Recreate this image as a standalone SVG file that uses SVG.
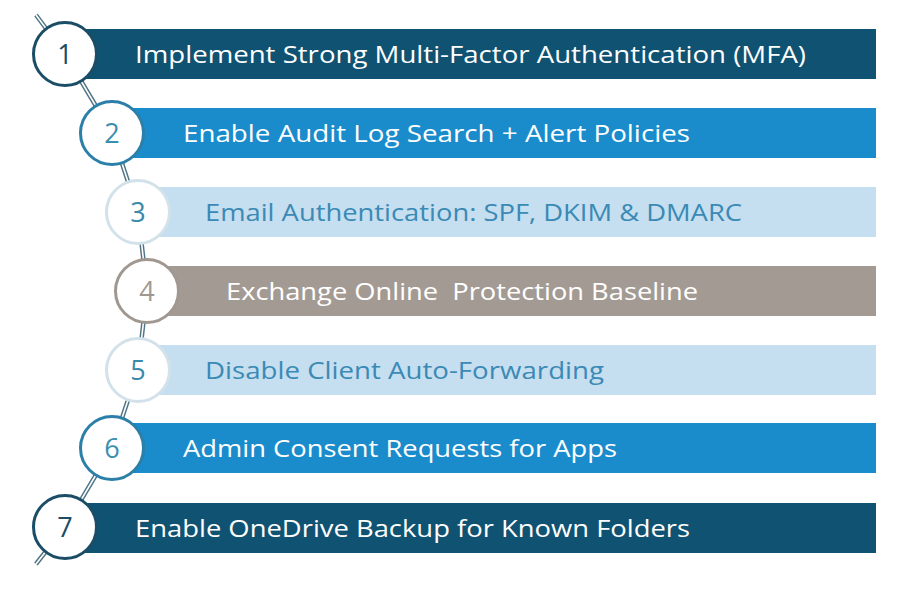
<svg xmlns="http://www.w3.org/2000/svg" width="912" height="589" viewBox="0 0 912 589">
  <style>
    .lbl { font-family: "Open Sans", "Liberation Sans", sans-serif; font-size: 24px; }
    .num { font-family: "Open Sans", "Liberation Sans", sans-serif; font-size: 27px; text-anchor: middle; }
    .w { fill: #ffffff; }
    .lb { fill: #3a8ab5; }
    .c { fill: #ffffff; stroke-width: 3; }
    .conn-o { stroke: #4f7486; stroke-width: 4.5; fill: none; }
    .conn-i { stroke: #ffffff; stroke-width: 1.6; fill: none; }
  </style>
  <rect width="912" height="589" fill="#ffffff"/>
  <g id="connectors">
    <polyline class="conn-o" points="36,15 65,54 112,133 138,212 147,291 138,370 112,448 65,527 36,564"/>
    <polyline class="conn-i" points="36,15 65,54 112,133 138,212 147,291 138,370 112,448 65,527 36,564"/>
  </g>
  <g id="node1">
    <rect x="66" y="29" width="810" height="50" fill="#0f5272"/>
    <circle class="c" cx="65" cy="54" r="31.5" stroke="#1b4d66"/>
    <text class="num" x="65" y="64" fill="#1b4d66">1</text>
    <text class="lbl w" x="135" y="63" textLength="671" lengthAdjust="spacingAndGlyphs">Implement Strong Multi-Factor Authentication (MFA)</text>
  </g>
  <g id="node2">
    <rect x="112" y="108" width="764" height="50" fill="#1a8ccc"/>
    <circle class="c" cx="112" cy="133" r="31.5" stroke="#2b7fa8"/>
    <text class="num" x="112" y="143" fill="#3a8fb0">2</text>
    <text class="lbl w" x="183" y="142" textLength="507" lengthAdjust="spacingAndGlyphs">Enable Audit Log Search + Alert Policies</text>
  </g>
  <g id="node3">
    <rect x="138" y="187" width="738" height="50" fill="#c5def0"/>
    <circle class="c" cx="138" cy="212" r="31.5" stroke="#d3e2ea"/>
    <text class="num" x="138" y="222" fill="#3b8aaa">3</text>
    <text class="lbl lb" x="205" y="221" textLength="537" lengthAdjust="spacingAndGlyphs">Email Authentication: SPF, DKIM &amp; DMARC</text>
  </g>
  <g id="node4">
    <rect x="147" y="266" width="729" height="50" fill="#a39b93"/>
    <circle class="c" cx="147" cy="291" r="31.5" stroke="#a09890"/>
    <text class="num" x="147" y="301" fill="#a09890">4</text>
    <text class="lbl w" x="226" y="300" textLength="472" lengthAdjust="spacingAndGlyphs" xml:space="preserve">Exchange Online  Protection Baseline</text>
  </g>
  <g id="node5">
    <rect x="138" y="345" width="738" height="50" fill="#c5def0"/>
    <circle class="c" cx="138" cy="370" r="31.5" stroke="#d3e2ea"/>
    <text class="num" x="138" y="380" fill="#3b8aaa">5</text>
    <text class="lbl lb" x="205" y="379" textLength="399" lengthAdjust="spacingAndGlyphs">Disable Client Auto-Forwarding</text>
  </g>
  <g id="node6">
    <rect x="112" y="423" width="764" height="50" fill="#1a8ccc"/>
    <circle class="c" cx="112" cy="448" r="31.5" stroke="#2b7fa8"/>
    <text class="num" x="112" y="458" fill="#3a8fb0">6</text>
    <text class="lbl w" x="183" y="457" textLength="434" lengthAdjust="spacingAndGlyphs">Admin Consent Requests for Apps</text>
  </g>
  <g id="node7">
    <rect x="66" y="503" width="810" height="50" fill="#0f5272"/>
    <circle class="c" cx="65" cy="527" r="31.5" stroke="#1b4d66"/>
    <text class="num" x="65" y="537" fill="#1b4d66">7</text>
    <text class="lbl w" x="135" y="537" textLength="555" lengthAdjust="spacingAndGlyphs">Enable OneDrive Backup for Known Folders</text>
  </g>
</svg>
